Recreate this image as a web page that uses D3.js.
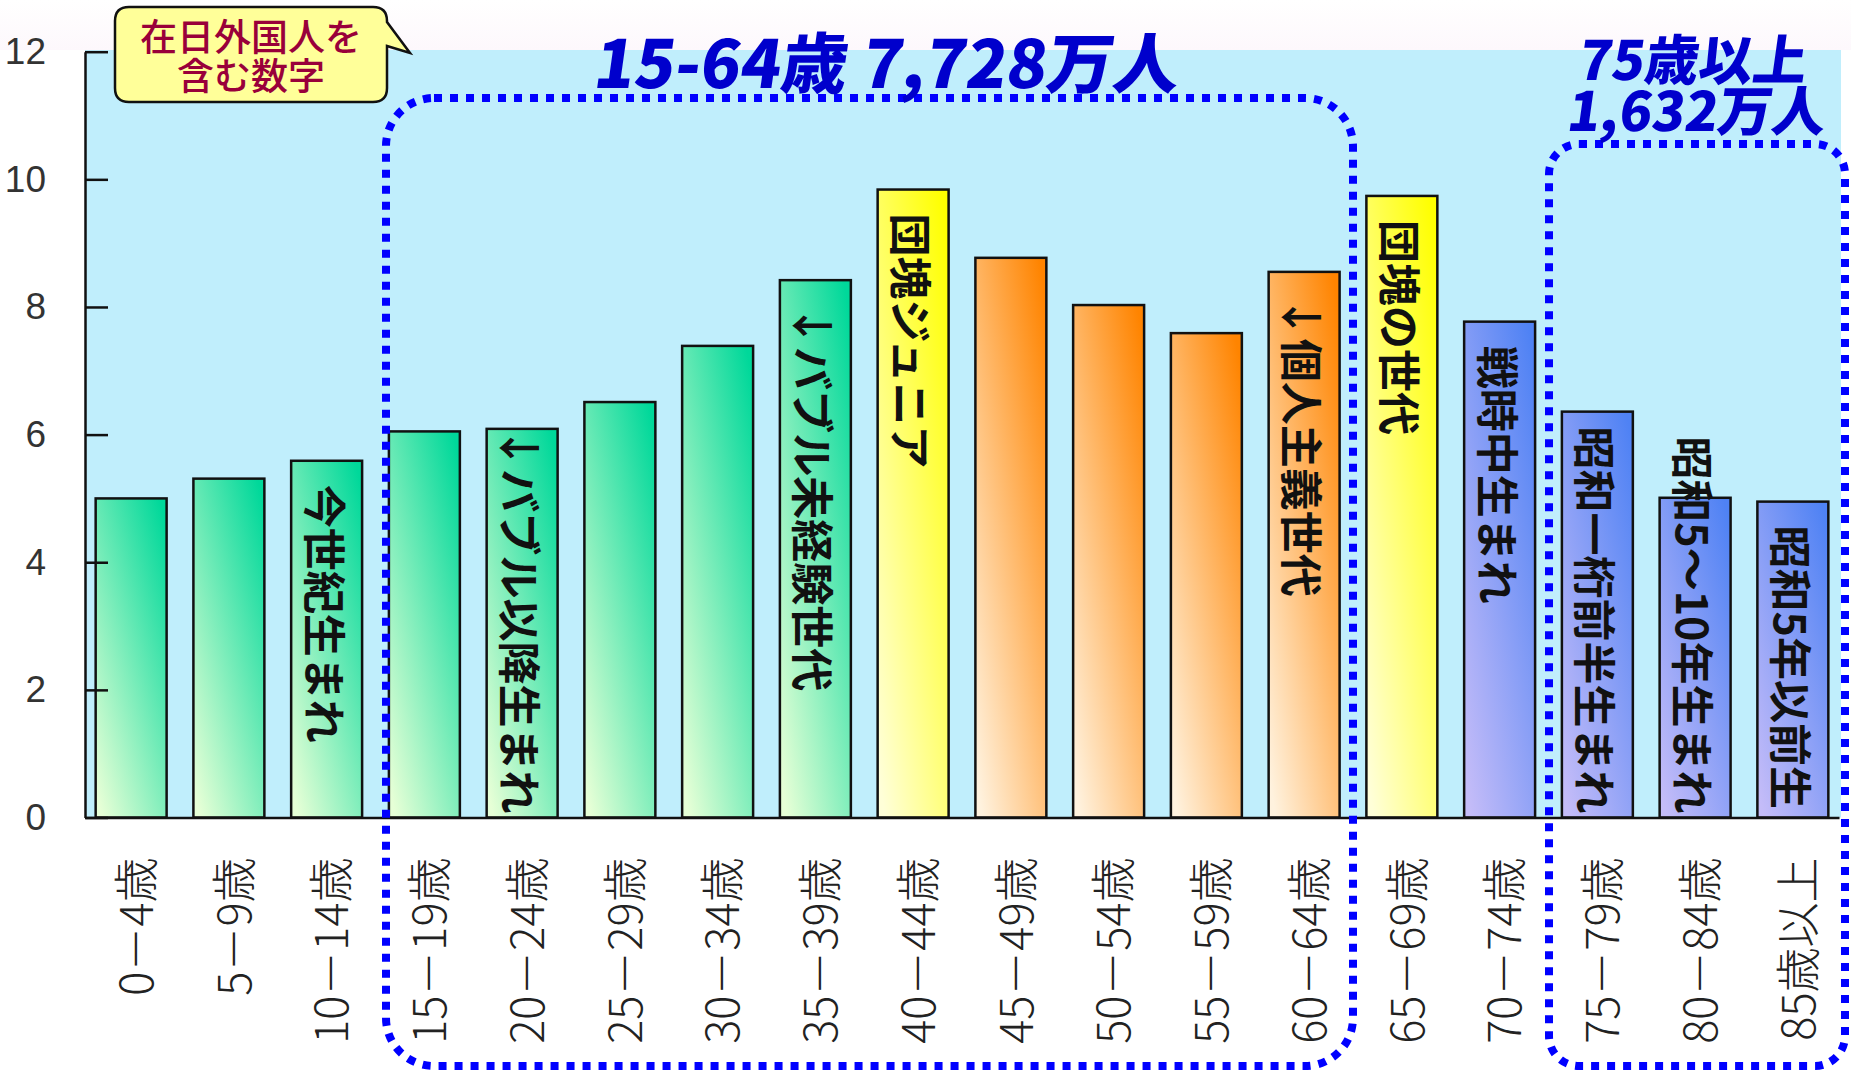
<!DOCTYPE html>
<html lang="ja">
<head>
<meta charset="utf-8">
<script src="https://cdn.jsdelivr.net/npm/d3@7"></script>
<style>
  html, body { margin: 0; padding: 0; background: #ffffff; }
  svg { display: block; }
</style>
</head>
<body>
<svg id="chart" width="1851" height="1075"></svg>
<script>
// 年齢階級別人口（百万人）
const ageGroups = [
  "0－4歳", "5－9歳", "10－14歳", "15－19歳", "20－24歳", "25－29歳",
  "30－34歳", "35－39歳", "40－44歳", "45－49歳", "50－54歳", "55－59歳",
  "60－64歳", "65－69歳", "70－74歳", "75－79歳", "80－84歳", "85歳以上"
];
const population = [
  5.00, 5.31, 5.59, 6.05, 6.09, 6.51,
  7.39, 8.42, 9.84, 8.77, 8.03, 7.59,
  8.55, 9.74, 7.77, 6.36, 5.01, 4.95
];
// 世代の区分（棒の配色に使う）
const cohorts = [
  "young", "young", "young", "young", "young", "young",
  "young", "young", "boomJr", "middle", "middle", "middle",
  "middle", "boom", "senior", "senior", "senior", "senior"
];
// 棒の中に書く世代名
const generationLabels = [
  "", "", "今世紀生まれ", "", "↓バブル以降生まれ", "",
  "", "↓バブル未経験世代", "団塊ジュニア", "", "", "",
  "↓個人主義世代", "団塊の世代", "戦時中生まれ", "昭和一桁前半生まれ", "昭和5～10年生まれ", "昭和5年以前生"
];
const yTicks = [0, 2, 4, 6, 8, 10, 12];
const noteLines = ["在日外国人を", "含む数字"];
const workingAgeTitle = "15-64歳 7,728万人";
const elderlyTitle = ["75歳以上", "1,632万人"];

const svg = d3.select("#chart");
const jp = "'Noto Sans CJK JP', 'Noto Sans', sans-serif";

const plot = { left: 85, right: 1839, top: 51.7, bottom: 817.5 };

const x = d3.scaleBand()
  .domain(ageGroups)
  .range([plot.left, plot.right])
  .paddingInner(0.274)
  .paddingOuter(0.109);

const y = d3.scaleLinear()
  .domain([0, 12])
  .range([plot.bottom, plot.top]);

// グラデーション
const defs = svg.append("defs");
const palettes = {
  young:  ["#00d89a", "#e6ffd6"],
  boomJr: ["#ffff00", "#ffffd8"],
  middle: ["#ff8400", "#fff2de"],
  boom:   ["#ffff00", "#ffffd8"],
  senior: ["#4f82f4", "#c4bcf8"]
};
Object.entries(palettes).forEach(([key, [c0, c1]]) => {
  const g = defs.append("linearGradient")
    .attr("id", "grad-" + key)
    .attr("x1", 0.9).attr("y1", 0)
    .attr("x2", 0.1).attr("y2", 1);
  g.append("stop").attr("offset", "0%").attr("stop-color", c0);
  g.append("stop").attr("offset", "100%").attr("stop-color", c1);
});
const bgGrad = defs.append("linearGradient")
  .attr("id", "bg-fade").attr("x1", 0).attr("y1", 0).attr("x2", 0).attr("y2", 1);
bgGrad.append("stop").attr("offset", "0%").attr("stop-color", "#ffffff");
bgGrad.append("stop").attr("offset", "100%").attr("stop-color", "#fdf8fc");

// 背景
svg.append("rect").attr("x", 0).attr("y", 0).attr("width", 1851).attr("height", 50)
  .attr("fill", "url(#bg-fade)");
svg.append("rect")
  .attr("x", plot.left).attr("y", 50)
  .attr("width", 1841 - plot.left).attr("height", plot.bottom - 50)
  .attr("fill", "#c0eefc");

// 棒
svg.append("g")
  .selectAll("rect")
  .data(ageGroups)
  .join("rect")
  .attr("x", d => x(d))
  .attr("y", (d, i) => y(population[i]))
  .attr("width", x.bandwidth())
  .attr("height", (d, i) => y(0) - y(population[i]))
  .attr("fill", (d, i) => `url(#grad-${cohorts[i]})`)
  .attr("stroke", "#111")
  .attr("stroke-width", 2.5);

// 棒の中の世代名（90度回転して上から下へ）
const labelLayer = svg.append("g");
ageGroups.forEach((d, i) => {
  const text = generationLabels[i];
  if (!text) return;
  const cx = x(d) + x.bandwidth() / 2;
  const t = labelLayer.append("text")
    .attr("font-family", jp)
    .attr("font-size", 43)
    .attr("font-weight", 600)
    .attr("fill", "#111")
    .attr("dominant-baseline", "central")
    .attr("text-anchor", "start")
    .text(text);
  const len = t.node().getComputedTextLength();
  const start = Math.min(y(population[i]) + 24, y(0) - len - 4);
  t.attr("transform", `translate(${cx},${start}) rotate(90)`);
});

// 縦軸
const yAxis = svg.append("g")
  .attr("transform", `translate(${plot.left},0)`)
  .call(d3.axisLeft(y).tickValues(yTicks).tickSize(-23).tickSizeOuter(0).tickPadding(39));
yAxis.select(".domain").attr("stroke", "#111").attr("stroke-width", 2.5);
yAxis.selectAll(".tick line").attr("stroke", "#111").attr("stroke-width", 2.5);
yAxis.selectAll(".tick text")
  .attr("font-family", "'Liberation Sans', 'DejaVu Sans', sans-serif")
  .attr("font-size", 37)
  .attr("fill", "#333");

// 横軸
const xAxis = svg.append("g")
  .attr("transform", `translate(0,${plot.bottom})`)
  .call(d3.axisBottom(x).tickSize(0).tickSizeOuter(0));
xAxis.select(".domain").attr("stroke", "#111").attr("stroke-width", 2.5);
xAxis.selectAll(".tick text")
  .attr("font-family", jp)
  .attr("font-size", 45)
  .attr("font-weight", 300)
  .attr("fill", "#222")
  .attr("y", 0)
  .attr("dy", "0.35em")
  .attr("text-anchor", "end")
  .attr("transform", "translate(6,40) rotate(-90)");

// 年齢区分の点線枠
const groupBoxes = svg.append("g")
  .attr("fill", "none")
  .attr("stroke", "#0000ff")
  .attr("stroke-width", 8)
  .attr("stroke-dasharray", "8 8");
groupBoxes.append("rect")
  .attr("x", 386).attr("y", 98).attr("width", 1353 - 386).attr("height", 1066 - 98)
  .attr("rx", 48).attr("ry", 48);
groupBoxes.append("rect")
  .attr("x", 1549).attr("y", 144).attr("width", 1845 - 1549).attr("height", 1066 - 144)
  .attr("rx", 30).attr("ry", 30);

// 見出し
const titleStyle = sel => sel
  .attr("font-family", jp)
  .attr("font-weight", 900)
  .attr("fill", "#0000cc");
svg.append("text")
  .call(titleStyle)
  .attr("font-size", 66)
  .attr("textLength", 585)
  .attr("lengthAdjust", "spacingAndGlyphs")
  .attr("transform", "translate(592,88) skewX(-8)")
  .text(workingAgeTitle);
const elderly = svg.append("text")
  .call(titleStyle)
  .attr("font-size", 54)
  .attr("transform", "translate(1694,0) skewX(-8)")
  .attr("text-anchor", "middle");
elderly.selectAll("tspan")
  .data(elderlyTitle)
  .join("tspan")
  .attr("x", (d, i) => i === 0 ? 8 : 19)
  .attr("y", (d, i) => i === 0 ? 80 : 131)
  .text(d => d);

// 注記の吹き出し
const note = svg.append("g");
note.append("path")
  .attr("d", "M129,7 H373 Q387,7 387,21 V22 L410,53 L387,46 V88 Q387,102 373,102 H129 Q115,102 115,88 V21 Q115,7 129,7 Z")
  .attr("fill", "#ffff99")
  .attr("stroke", "#111")
  .attr("stroke-width", 2.5);
note.append("text")
  .attr("text-anchor", "middle")
  .attr("font-family", jp)
  .attr("font-size", 37)
  .attr("font-weight", 500)
  .attr("fill", "#99003a")
  .selectAll("tspan")
  .data(noteLines)
  .join("tspan")
  .attr("x", 251)
  .attr("y", (d, i) => 51 + i * 39)
  .text(d => d);
</script>
</body>
</html>
